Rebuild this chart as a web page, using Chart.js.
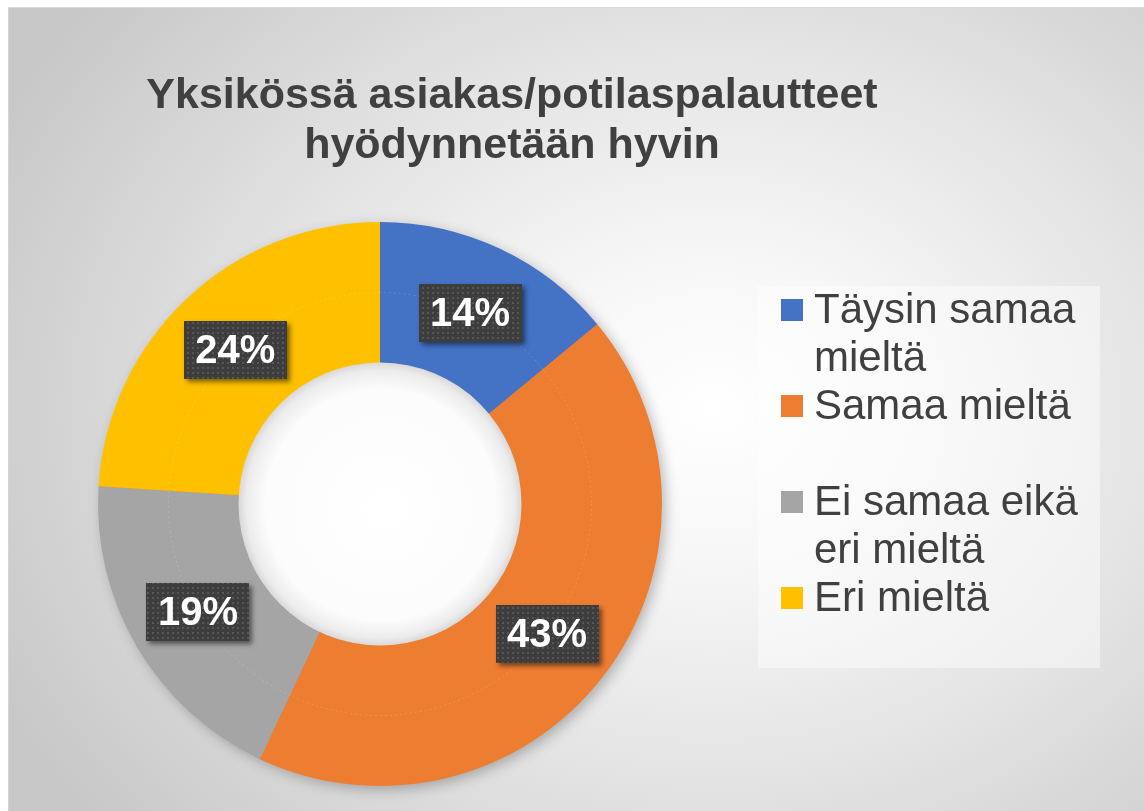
<!DOCTYPE html>
<html>
<head>
<meta charset="utf-8">
<script src="https://cdn.jsdelivr.net/npm/chart.js@4.4.1/dist/chart.umd.min.js"></script>
<style>
  body { margin: 0; width: 1144px; height: 811px; overflow: hidden; background: #fff; font-family: "Liberation Sans", Arial, sans-serif; }
  #frame {
    position: absolute; left: 8px; top: 7px; right: 0; bottom: 0;
    border-top: 1px solid #d4d4d4; border-left: 1px solid #d4d4d4;
    background: radial-gradient(ellipse 70% 80% at 62% 50%, #ffffff 0%, #f6f6f6 25%, #e2e2e2 60%, #c8c8c8 100%);
  }
  #wrap { position: absolute; left: 0; top: 0; width: 1144px; height: 811px; }
  #title {
    position: absolute; left: 0; top: 68px; width: 1024px; text-align: center;
    font-weight: bold; font-size: 43px; line-height: 50px; color: #404040;
  }
  #legend {
    position: absolute; left: 758px; top: 286px; width: 342px; height: 382px;
    background: rgba(255,255,255,0.45);
  }
  .item { position: absolute; left: 23px; height: 96px; }
  .sw { position: absolute; left: 0; top: 13px; width: 22px; height: 22px; }
  .txt { position: absolute; left: 33px; top: -1px; width: 300px; font-size: 42px; line-height: 48px; color: #404040; }
</style>
</head>
<body>
<div id="frame"></div>
<div id="wrap"><canvas id="chart"></canvas></div>
<div id="title">Yksikössä asiakas/potilaspalautteet<br>hyödynnetään hyvin</div>
<div id="legend"></div>
<script>
const labels = ["Täysin samaa mieltä", "Samaa mieltä", "Ei samaa eikä eri mieltä", "Eri mieltä"];
const values = [14, 43, 19, 24];
const colors = ["#4472C4", "#ED7D31", "#A5A5A5", "#FFC000"];

// legend (each entry gets two lines of room, like the Excel one)
const legendEl = document.getElementById("legend");
labels.forEach((lab, i) => {
    const item = document.createElement("div");
    item.className = "item";
    item.style.top = (i * 96) + "px";
    item.innerHTML = '<div class="sw" style="background:' + colors[i] + '"></div><div class="txt">' + lab + '</div>';
    legendEl.appendChild(item);
});

// dotted dark pattern for the label boxes
const pat = document.createElement("canvas");
pat.width = 5; pat.height = 5;
const pctx = pat.getContext("2d");
pctx.fillStyle = "#3d3d3d";
pctx.fillRect(0, 0, 5, 5);
pctx.fillStyle = "#565656";
pctx.fillRect(2, 2, 2, 2);

const ringEffects = {
    id: "ringEffects",
    beforeDatasetsDraw(chart) {
        const arc = chart.getDatasetMeta(0).data[0];
        const ctx = chart.ctx;
        ctx.save();
        ctx.shadowColor = "rgba(0,0,0,0.28)";
        ctx.shadowBlur = 14;
        ctx.shadowOffsetX = 4;
        ctx.shadowOffsetY = 4;
        ctx.fillStyle = "#ED7D31";
        ctx.beginPath();
        ctx.arc(arc.x, arc.y, arc.outerRadius - 1, 0, Math.PI * 2);
        ctx.fill();
        ctx.restore();
    },
    afterDatasetsDraw(chart) {
        const meta = chart.getDatasetMeta(0);
        const arc = meta.data[0];
        const ctx = chart.ctx;
        const cx = arc.x, cy = arc.y, ri = arc.innerRadius, ro = arc.outerRadius;

        // hole with soft inner shadow
        ctx.save();
        const g = ctx.createRadialGradient(cx + 6, cy + 6, 0, cx, cy, ri);
        g.addColorStop(0, "#ffffff");
        g.addColorStop(0.82, "#fcfcfc");
        g.addColorStop(0.95, "#ececec");
        g.addColorStop(1, "#dadada");
        ctx.fillStyle = g;
        ctx.beginPath();
        ctx.arc(cx, cy, ri + 0.5, 0, Math.PI * 2);
        ctx.fill();

        // faint middle ring
        ctx.strokeStyle = "rgba(255,255,255,0.16)";
        ctx.lineWidth = 1;
        ctx.setLineDash([2, 3]);
        ctx.beginPath();
        ctx.arc(cx, cy, (ri + ro) / 2, 0, Math.PI * 2);
        ctx.stroke();
        ctx.restore();

        // data labels
        const total = values.reduce((a, b) => a + b, 0);
        meta.data.forEach((el, i) => {
            const p = el.tooltipPosition();
            const txt = Math.round(values[i] / total * 100) + "%";
            const w = 103, h = 58;
            ctx.save();
            ctx.shadowColor = "rgba(0,0,0,0.5)";
            ctx.shadowBlur = 5;
            ctx.shadowOffsetX = 3;
            ctx.shadowOffsetY = 3;
            ctx.fillStyle = ctx.createPattern(pat, "repeat");
            ctx.fillRect(Math.round(p.x - w / 2), Math.round(p.y - h / 2), w, h);
            ctx.restore();
            ctx.save();
            ctx.fillStyle = "#ffffff";
            ctx.font = "bold 40px 'Liberation Sans', Arial, sans-serif";
            ctx.textAlign = "center";
            ctx.textBaseline = "middle";
            ctx.fillText(txt, p.x, p.y + 2);
            ctx.restore();
        });
    }
};

new Chart(document.getElementById("chart"), {
    type: "doughnut",
    data: {
        labels: labels,
        datasets: [{
            data: values,
            backgroundColor: colors,
            borderWidth: 0
        }]
    },
    options: {
        responsive: true,
        maintainAspectRatio: false,
        animation: false,
        cutout: "50%",
        layout: { padding: { left: 98, top: 222, right: 482, bottom: 25 } },
        plugins: {
            legend: { display: false },
            title: { display: false },
            tooltip: { enabled: false }
        }
    },
    plugins: [ringEffects]
});
</script>
</body>
</html>
